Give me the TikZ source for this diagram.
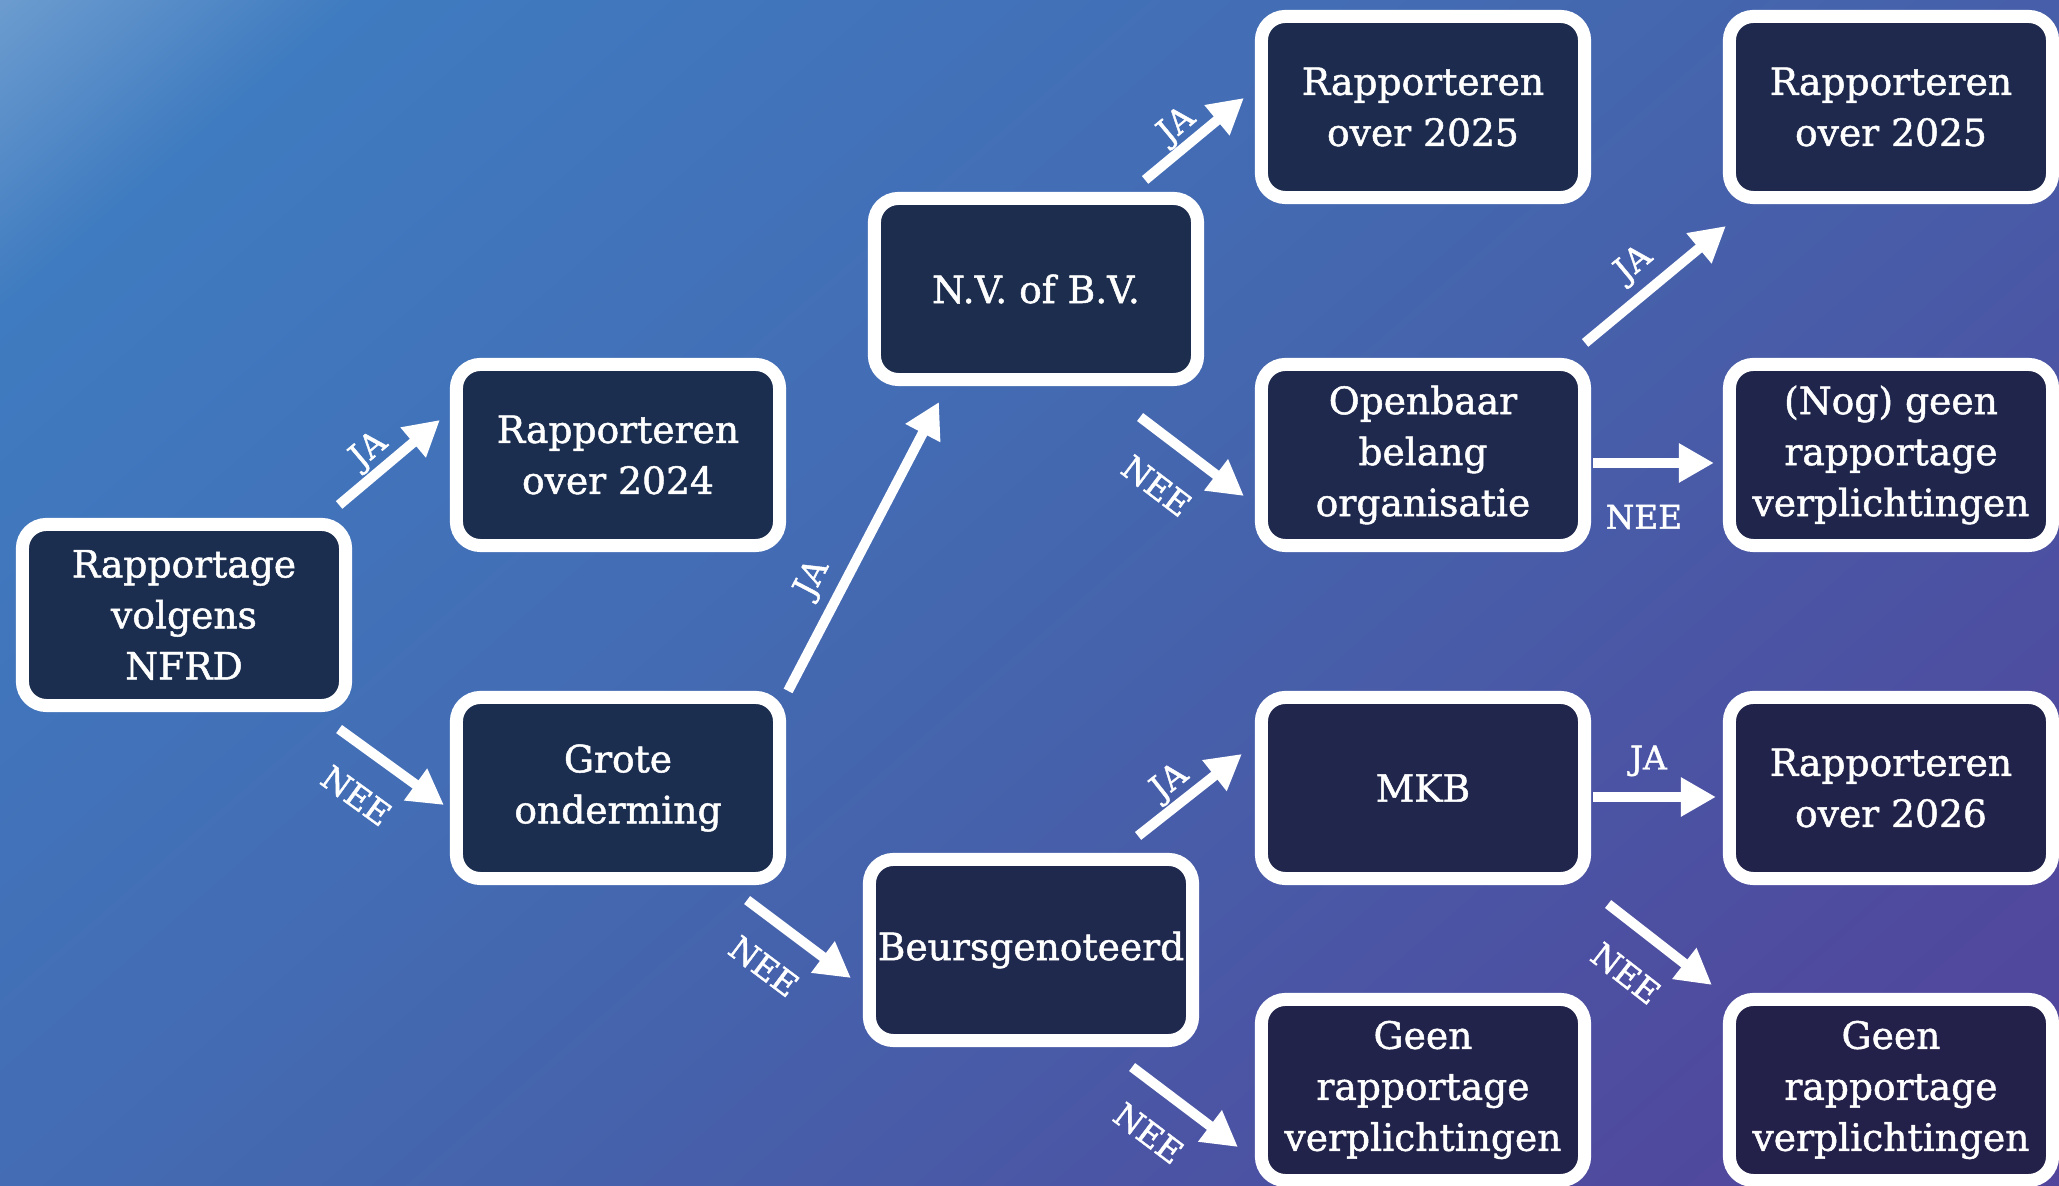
\documentclass[tikz,border=0pt]{standalone}
\usepackage{fontspec}
\setmainfont{DejaVu Serif}[FakeBold=1.3]
\usetikzlibrary{arrows.meta,calc}

\definecolor{bgA}{HTML}{6C9CCF}
\definecolor{bgB}{HTML}{3F7BC0}
\definecolor{bgC}{HTML}{436EB6}
\definecolor{bgD}{HTML}{4466AE}
\definecolor{bgE}{HTML}{4F4A9E}
\definecolor{bgF}{HTML}{52459C}
\definecolor{navyA}{HTML}{1C2E4F}
\definecolor{navyB}{HTML}{232049}

\pgfdeclarehorizontalshading{bgshade}{100bp}{color(0bp)=(bgA); color(14.7bp)=(bgA); color(22bp)=(bgB); color(40.8bp)=(bgC); color(50bp)=(bgD); color(76.1bp)=(bgE); color(85.3bp)=(bgF); color(100bp)=(bgF)}

\tikzset{
  box/.style={draw=white, line width=0.13cm, rounded corners=0.24cm, fill=navyB!#1!navyA,
    text=white, align=center, minimum width=3.23cm, minimum height=1.81cm, inner sep=0pt,
    font=\fontsize{10.7pt}{14.5pt}\selectfont},
  box/.default=0,
  arr/.style={draw=white, line width=0.1cm, -{Triangle[length=0.35cm,width=0.37cm]}},
  lbl/.style={text=white, sloped, inner sep=0pt, font=\fontsize{9.3pt}{11pt}\selectfont},
}

\begin{document}
\begin{tikzpicture}[x=0.01cm, y=-0.01cm]
    \useasboundingbox (0,0) rectangle (2059,1186);
    \shade[shading=bgshade, shading angle=-49] (0,0) rectangle (2059,1186);

    \node[box] (A) at (184,615) {Rapportage\\volgens\\NFRD};
    \node[box] (B) at (618,455) {Rapporteren\\over 2024};
    \node[box] (C) at (618,788) {Grote\\onderming};
    \node[box=10] (D) at (1036,289) {N.V. of B.V.};
    \node[box=40] (E) at (1031,950) {Beursgenoteerd};
    \node[box=15] (F) at (1423,107) {Rapporteren\\over 2025};
    \node[box=35] (G) at (1423,455) {Openbaar\\belang\\organisatie};
    \node[box=55] (H) at (1423,788) {MKB};
    \node[box=75] (I) at (1423,1090) {Geen\\rapportage\\verplichtingen};
    \node[box=35] (J) at (1891,107) {Rapporteren\\over 2025};
    \node[box=60] (K) at (1891,455) {(Nog) geen\\rapportage\\verplichtingen};
    \node[box=80] (L) at (1891,788) {Rapporteren\\over 2026};
    \node[box=100] (M) at (1891,1090) {Geen\\rapportage\\verplichtingen};

    % JA / NEE arrows
    \draw[arr] ($(A.north east)+(-13,-13)$) -- ($(B.west)+(-10,-35)$) node[lbl, pos=.44, yshift=.22cm] {JA};
    \draw[arr] ($(A.south east)+(-13,17)$) -- ($(C.west)+(-6,17)$) node[lbl, pos=.41, yshift=-.44cm] {NEE};
    \draw[arr] ($(C.north east)+(2,0)$) -- ($(D.south)+(-97,16)$) node[lbl, pos=.34, yshift=.3cm] {JA};
    \draw[arr] ($(C.south east)+(-39,15)$) -- ($(E.west)+(-12,28)$) node[lbl, pos=.41, yshift=-.43cm] {NEE};
    \draw[arr] ($(D.north east)+(-59,-12)$) -- ($(F.west)+(-11,-9)$) node[lbl, pos=.46, yshift=.21cm] {JA};
    \draw[arr] ($(D.south east)+(-64,31)$) -- ($(G.west)+(-11,41)$) node[lbl, pos=.42, yshift=-.45cm] {NEE};
    \draw[arr] ($(G.north east)+(-6,-15)$) -- ($(J.south west)+(3,22)$) node[lbl, pos=.48, yshift=.29cm] {JA};
    \draw[arr] ($(G.east)+(2,8)$) -- ($(K.west)+(-9,8)$) node[lbl, pos=.42, yshift=-.54cm] {NEE};
    \draw[arr] ($(E.north east)+(-61,-17)$) -- ($(H.west)+(-13,-34)$) node[lbl, pos=.44, yshift=.22cm] {JA};
    \draw[arr] ($(E.south east)+(-67,20)$) -- ($(I.west)+(-17,57)$) node[lbl, pos=.40, yshift=-.43cm] {NEE};
    \draw[arr] ($(H.east)+(2,9)$) -- ($(L.west)+(-7,9)$) node[lbl, pos=.45, yshift=.36cm] {JA};
    \draw[arr] ($(H.south east)+(17,19)$) -- ($(M.north west)+(-11,-8)$) node[lbl, pos=.43, yshift=-.44cm] {NEE};
\end{tikzpicture}
\end{document}
